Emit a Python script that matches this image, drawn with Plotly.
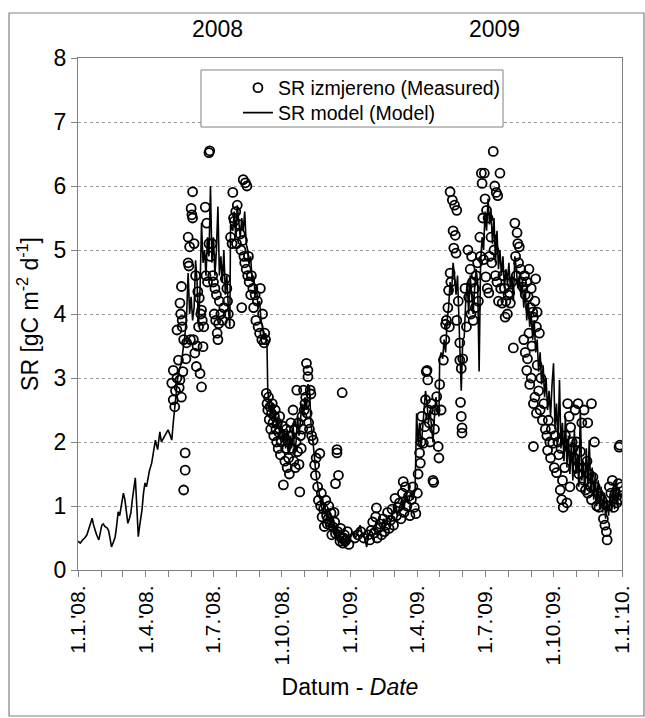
import plotly.graph_objects as go
import pandas as pd

# ---------------- data (day offsets from 1.1.2008, value) ----------------
model_2008 = [
(0,0.45),(3,0.42),(6,0.47),(9,0.5),(12,0.55),(16,0.68),(19,0.81),(21,0.7),(23,0.6),(25,0.55),
(28,0.47),(30,0.6),(32,0.7),(34,0.72),(36,0.68),(39,0.66),(41,0.62),(43,0.5),(45,0.36),(48,0.45),
(50,0.52),(52,0.7),(54,0.91),(56,0.85),(58,1.0),(61,1.2),(63,1.1),(65,0.9),(67,0.73),(69,0.8),
(71,0.89),(73,1.1),(75,1.3),(77,1.44),(79,1.0),(81,0.52),(83,0.7),(86,0.94),(88,1.2),(90,1.36),
(92,1.3),(94,1.44),(96,1.55),(99,1.67),(101,1.85),(104,2.03),(107,1.88),(110,2.16),(112,2.0),(115,2.06),
(118,2.12),(121,2.19),(124,2.1),(126,2.03),(128,2.3),(130,2.55),
(132,2.86),(134,3.0),(136,3.12),(138,3.2),(140,3.33),(142,3.5),(144,3.7),(146,4.0),(148,4.64),(150,4.0),
(152,4.27),(154,3.9),(156,4.1),(158,4.84),(160,4.5),(162,3.8),(164,4.4),(166,5.42),(168,4.8),(170,5.0),
(172,4.6),(174,5.2),(176,4.9),(178,6.0),(180,4.8),(182,5.2),(184,4.6),(186,5.0),(188,5.68),(190,4.6),
(192,4.9),(194,4.5),(196,5.0),(198,4.3),(200,4.6),(202,4.1),(204,3.8),(205,5.4),(208,5.3),(210,5.6),
(212,5.2),(214,5.7),(216,5.5),(218,5.2),(220,5.5),(222,5.3),(224,5.6),(226,5.1),(228,5.0),(230,4.8),
(232,4.9),(234,4.5),(236,4.6),(238,4.3),(240,4.4),(242,4.1),(244,4.2),(246,3.9),(248,3.8),(250,3.6),
(252,3.7),(254,3.5),(255,2.8),(257,2.6),(259,2.4),(261,2.6),(263,2.3),(265,2.5),(267,2.2),(269,2.4),
(271,2.1),(273,2.3),(275,2.0),(277,2.2),(279,1.9),(281,2.2),(283,1.8),(285,2.1),(287,1.9),(289,2.3),
(291,1.8),(293,2.0),(295,2.4),(297,2.1),(299,2.3),(301,2.6),(303,2.4),(305,2.7),(307,2.5),(309,2.9),
(311,2.86),(313,2.3),(315,2.1),(317,1.8),(319,1.6),(321,1.4),(323,1.25),(325,1.1),(327,1.0),(329,0.9),
(331,1.05),(333,0.85),(335,0.95),(337,0.75),(339,0.8),(341,0.65),(343,0.7),(345,0.6),(347,0.55),(349,0.62),
(351,0.5),(353,0.45),(355,0.5),(357,0.42),(359,0.48),(361,0.4),(363,0.45),(365,0.5),
]

model_2009 = [
(367,0.55),(370,0.6),(373,0.5),(376,0.58),(379,0.7),(382,0.55),(385,0.5),(388,0.36),(390,0.55),(393,0.6),
(396,0.65),(399,0.6),(402,0.75),(405,0.7),(408,0.65),(411,0.8),(414,0.7),(417,0.85),(420,0.75),(423,0.9),
(426,1.0),(429,0.85),(432,1.0),(435,1.1),(438,0.95),(441,1.2),(444,1.05),(447,1.2),(450,1.1),(453,1.25),
(455,2.45),(457,2.0),(459,2.3),(461,1.9),(463,2.2),(465,2.5),(467,2.8),(469,2.6),(471,2.3),(473,2.5),
(475,2.2),(477,2.0),(479,2.4),(481,2.7),(483,2.5),(485,2.4),(486,3.3),(488,3.4),(490,3.3),(492,3.6),
(494,3.4),(496,3.9),(498,4.1),(500,4.5),(502,4.3),(504,4.8),(506,4.6),(508,4.3),(510,4.6),(512,3.9),
(514,3.3),(515,2.8),(517,3.6),(519,3.64),(521,4.2),(523,4.5),(525,4.0),(527,4.6),(529,4.3),(531,4.0),
(533,4.4),(535,4.7),(537,4.5),(539,3.1),(541,4.8),(543,5.2),(545,5.0),(547,5.6),(549,5.3),(551,5.8),
(553,5.4),(555,5.6),(557,5.1),(559,5.5),(561,4.8),(563,5.3),(565,4.7),(567,5.0),(569,4.6),(571,4.9),
(573,4.4),(575,4.7),(577,4.5),(579,4.8),(581,4.4),(583,4.6),(585,4.2),(587,4.9),(589,4.7),(591,4.4),
(593,4.6),(595,4.3),(597,4.5),(599,4.1),(601,4.4),(603,3.9),(605,4.2),(607,3.8),(609,4.0),(611,3.6),
(613,3.9),(615,3.4),(617,3.6),(619,3.1),(621,3.4),(623,2.9),(625,3.2),(627,2.7),(629,3.0),(631,2.5),
(633,2.8),(635,2.4),(637,2.9),(639,3.23),(641,2.2),(643,2.6),(645,2.0),(647,2.97),(649,1.9),(651,2.3),
(653,1.7),(655,2.4),(657,1.6),(659,2.1),(661,1.5),(663,2.0),(665,1.4),(667,2.2),(669,1.5),(671,1.8),
(673,1.3),(675,2.5),(677,1.4),(679,1.7),(681,1.2),(683,1.9),(685,1.3),(687,2.03),(689,1.2),(691,1.6),
(693,1.1),(695,1.5),(697,1.0),(699,1.4),(701,0.95),(703,1.3),(705,0.9),(707,1.2),(709,0.8),(711,1.1),
(713,0.85),(715,1.2),(717,0.9),(719,1.3),(721,0.95),(723,1.4),(725,1.0),(727,1.3),(729,1.1),(731,1.2),
]

meas_2008 = [
(126,2.92),(128,3.12),(128,2.66),(130,2.55),(131,2.8),(133,3.75),(133,3.0),(135,3.28),(136,2.85),(137,2.97),
(137,4.17),(138,4.0),(139,2.7),(139,4.43),(140,3.9),(140,3.8),(141,3.1),(142,3.6),(142,1.25),(144,1.83),
(144,1.56),(145,3.3),(146,3.55),(148,5.2),(148,4.8),(149,4.75),(150,5.05),(151,3.6),(152,5.65),(153,5.55),
(154,5.91),(154,5.5),(155,3.6),(156,5.1),(157,3.39),(158,4.6),(159,3.18),(160,3.5),(161,4.35),(162,3.8),
(163,4.25),(164,3.07),(165,4.0),(166,2.86),(166,4.06),(167,3.9),(168,3.49),(169,3.8),(171,5.67),(172,4.6),
(173,5.42),(174,4.5),(176,6.52),(177,6.55),(176,5.1),(178,4.9),(180,5.1),(181,4.6),(182,4.5),(183,4.0),
(184,4.4),(185,3.9),(186,4.3),(187,3.7),(188,3.6),(189,3.85),(190,4.2),(192,4.0),(194,3.9),(196,4.1),
(198,4.55),(200,4.4),(201,4.2),(202,4.0),(204,3.85),(205,5.2),(207,5.1),(208,5.9),(209,5.5),(210,5.45),
(212,5.6),(213,5.1),(214,5.7),(216,5.4),(218,5.25),(219,5.0),(220,4.1),(221,5.15),(222,6.1),(223,4.9),
(224,4.8),(225,6.05),(226,4.7),(227,6.0),(228,4.6),(229,4.9),(230,4.5),(232,4.3),(233,4.6),(235,4.4),
(236,4.1),(238,4.3),(239,3.9),(241,4.2),(242,3.8),(244,3.7),(245,4.4),(247,3.6),(248,4.0),(250,3.55),
(251,3.7),(252,3.6),
(253,2.76),(254,2.6),(255,2.5),(256,2.7),(257,2.35),(258,2.55),(259,2.2),(260,2.45),(261,2.6),(262,2.3),
(263,2.1),(264,2.4),(265,2.5),(266,2.2),(267,2.0),(268,2.3),(269,1.9),(270,2.15),(271,2.4),(272,1.8),
(273,2.0),(275,2.25),(276,1.33),(277,2.1),(278,1.7),(279,1.9),(280,2.2),(281,1.6),(282,2.0),(283,1.75),
(284,1.5),(285,2.1),(286,2.3),(288,1.9),(289,2.5),(290,1.7),(291,2.2),(292,1.6),(293,2.0),(294,2.81),
(295,1.85),(296,2.3),(297,1.65),(298,1.22),(299,2.1),(300,1.9),(301,2.4),(302,2.2),(303,2.81),(304,2.5),
(305,2.6),(306,2.7),(307,3.23),(308,2.45),(309,3.12),(309,3.02),(310,2.3),(311,2.2),(312,2.81),(313,2.75),
(314,2.1),(316,2.03),(318,1.64),(319,1.48),(320,1.75),(322,1.3),(323,1.09),(325,1.82),(326,1.0),(327,1.2),
(328,0.83),(330,0.95),(331,0.68),(333,1.09),(334,0.85),(335,0.72),(336,0.8),(337,1.0),(338,0.75),(339,0.7),
(340,0.89),(341,0.55),(343,0.67),(344,0.9),(345,0.75),(346,0.57),(346,1.35),(348,1.88),(348,1.83),(349,0.6),
(350,1.48),(351,0.55),(352,0.45),(353,0.65),(354,0.5),(355,2.77),(356,0.42),(357,0.5),(358,0.55),(359,0.45),
(360,0.47),(362,0.6),(364,0.4),
]

meas_2009 = [
(372,0.5),(376,0.55),(380,0.6),(384,0.5),(390,0.55),(392,0.47),(394,0.62),(396,0.75),(398,0.58),(400,0.83),
(401,0.97),(402,0.5),(404,0.66),(406,0.72),(408,0.55),(410,0.8),(412,0.6),(414,0.7),(416,0.9),(418,0.65),
(420,0.78),(422,0.95),(424,0.7),(426,1.12),(428,0.85),(430,0.98),(432,1.05),(434,0.8),(436,1.2),(437,1.38),
(438,0.9),(440,1.3),(442,1.0),(444,1.15),(446,0.85),(448,1.1),(450,1.3),(452,0.98),(454,0.88),(456,1.2),
(457,1.5),
(459,1.83),(460,1.67),(461,2.0),(462,2.4),(464,1.98),(466,2.24),(467,2.66),(468,3.1),(469,3.12),(470,2.97),
(471,2.5),(472,2.3),(473,2.0),(475,2.6),(477,1.4),(478,1.37),(479,2.2),(480,2.5),(482,2.71),(484,1.93),
(485,1.75),(486,2.9),(488,2.5),(491,3.28),(493,3.6),(494,3.84),(495,3.9),(497,4.1),(498,4.37),(499,3.8),
(500,4.64),(500,5.91),(501,4.5),(503,5.78),(504,5.3),(505,5.03),(506,5.7),(507,5.23),(508,4.95),(509,5.62),
(509,3.9),(511,4.2),(513,3.28),(513,3.55),(514,2.62),(515,2.4),(515,3.15),(516,2.14),(516,2.22),(517,3.3),
(520,4.4),(522,3.8),(524,5.0),(525,4.26),(527,4.7),(528,4.0),(529,4.9),(530,4.5),(531,3.9),(533,4.4),
(534,4.1),(535,4.6),(537,4.8),(538,4.2),(540,5.2),(541,4.9),(542,6.2),(543,6.04),(544,5.5),(545,4.85),
(546,6.2),(547,5.8),(548,4.58),(549,5.62),(550,4.4),(551,5.5),(552,4.33),(553,4.9),(555,5.2),(556,4.8),
(558,6.54),(559,5.0),(560,6.0),(561,4.6),(562,5.9),(563,4.5),(564,5.85),(565,4.2),(567,6.2),(568,4.4),
(570,4.17),(571,4.6),(573,4.4),(574,3.95),(575,4.2),(577,4.0),(578,4.3),(580,4.33),(581,4.17),(583,4.5),
(585,3.47),(587,5.42),(588,4.9),(589,4.6),(590,5.27),(591,5.1),(592,4.8),(593,5.05),(595,4.7),(596,4.5),
(598,4.42),(599,3.6),(600,4.6),(601,4.3),(601,3.4),(603,4.5),(603,3.12),(604,3.3),(605,4.27),(606,4.7),
(606,3.7),(607,2.9),(608,4.1),(609,4.4),(609,3.0),(610,3.5),(611,4.03),(612,3.95),(612,2.6),(612,1.93),
(614,4.2),(614,2.7),(615,4.55),(616,3.8),(616,2.45),(617,4.03),(617,3.2),(619,2.8),(620,3.7),(621,2.5),
(622,3.0),(624,2.34),(626,2.6),(628,2.2),(630,2.1),(631,1.87),(632,2.34),(634,2.0),(635,1.75),(636,2.2),
(638,1.98),(640,1.6),(641,2.1),(643,1.52),(645,2.0),(646,1.8),(648,1.25),(649,1.9),(650,1.1),(651,1.4),
(652,0.98),(654,1.6),(655,2.1),(657,1.05),(658,2.6),(660,2.4),(661,1.3),(662,2.23),(664,2.0),(665,1.9),
(667,1.75),(668,2.5),(670,2.0),(671,1.6),(672,2.6),(673,1.5),(675,1.85),(676,1.3),(677,2.3),(679,1.6),
(680,1.4),(680,2.5),(682,1.25),(684,1.7),(685,1.2),(685,2.3),(687,1.5),(689,1.3),(690,1.1),(690,2.6),
(692,1.45),(694,2.0),(695,1.3),(697,1.0),(699,1.2),(700,0.98),(702,1.15),(704,1.1),(706,0.8),(708,0.7),
(710,0.6),(711,0.47),(712,1.0),(714,1.3),(716,1.2),(718,1.4),(720,0.98),(722,1.2),(724,1.05),(726,1.35),
(727,1.92),(728,1.95),(729,1.1),(730,1.3),
]

tick_dates = ["2008-01-01", "2008-04-01", "2008-07-01", "2008-10-01", "2009-01-01",
              "2009-04-01", "2009-07-01", "2009-10-01", "2010-01-01"]
tick_labels = ["1.1.'08.", "1.4.'08.", "1.7.'08.", "1.10.'08.", "1.1.'09.",
               "1.4.'09.", "1.7.'09.", "1.10.'09.", "1.1.'10."]
year_labels = ["2008", "2009"]
year_label_dates = ["2008-07-07", "2009-07-14"]

# ---------------- build ----------------
start = pd.Timestamp("2008-01-01")

def to_xy(points):
    d = [start + pd.Timedelta(days=p[0]) for p in points]
    v = [p[1] for p in points]
    return d, v

mx, my = to_xy(model_2008 + model_2009)
sx, sy = to_xy(meas_2008 + meas_2009)

FONT = "Liberation Sans, Arial, sans-serif"
GRAY = "#808080"

fig = go.Figure()
fig.add_trace(go.Scatter(
    x=sx, y=sy, mode="markers", name="SR izmjereno (Measured)", legend="legend",
    marker=dict(symbol="circle-open", size=9, color="black", line=dict(width=1.8, color="black")),
))
fig.add_trace(go.Scatter(
    x=mx, y=my, mode="lines", name="SR model (Model)", legend="legend2",
    line=dict(color="black", width=1.6),
))

for lab, d in zip(year_labels, year_label_dates):
    fig.add_annotation(x=d, y=1.057, xref="x", yref="paper", text=lab, showarrow=False,
                       font=dict(size=23, color="black", family=FONT), xanchor="center", yanchor="middle")

# legend frame
fig.add_shape(type="rect", xref="paper", yref="paper", x0=0.2261, x1=0.7813, y0=0.8652, y1=0.9766,
              line=dict(color=GRAY, width=1), fillcolor="white", layer="above")
# outer frame
fig.add_shape(type="rect", xref="paper", yref="paper", x0=-0.1268, x1=1.0404, y0=-0.2852, y1=1.0879,
              line=dict(color=GRAY, width=1.2))

leg_common = dict(x=0.294, xanchor="left", yanchor="middle", bgcolor="rgba(0,0,0,0)",
                  borderwidth=0, font=dict(size=19.5, family=FONT, color="black"))

fig.update_layout(
    width=645, height=718,
    margin=dict(l=78, r=23, t=58, b=148),
    paper_bgcolor="white", plot_bgcolor="white",
    font=dict(family=FONT, size=20, color="black"),
    showlegend=True,
    legend=dict(y=0.9414, **leg_common),
    legend2=dict(y=0.8926, **leg_common),
    xaxis=dict(
        type="date", range=["2008-01-01", "2010-01-01"],
        tickvals=tick_dates, ticktext=tick_labels, tickangle=-90,
        ticks="outside", ticklen=6, tickcolor=GRAY,
        showline=True, linecolor=GRAY, linewidth=1.2, mirror=True,
        showgrid=False, zeroline=False,
        tickfont=dict(size=21, family=FONT),
        minor=dict(dtick="M1", tick0="2008-01-01", ticks="outside", ticklen=6, tickcolor=GRAY, showgrid=False),
        title=dict(text="Datum - <i>Date</i>", font=dict(size=23, family=FONT), standoff=14),
    ),
    yaxis=dict(
        range=[0, 8], dtick=1, tick0=0,
        ticks="outside", ticklen=6, tickcolor=GRAY,
        showline=True, linecolor=GRAY, linewidth=1.2, mirror=True,
        showgrid=True, gridcolor="#9a9a9a", griddash="dot", gridwidth=1,
        zeroline=False,
        tickfont=dict(size=23, family=FONT),
        title=dict(text="SR [gC m<sup>-2</sup> d<sup>-1</sup>]", font=dict(size=23, family=FONT), standoff=8),
    ),
)

fig.write_html("out.html", config={"displayModeBar": False},
               post_script="document.body.style.margin='0';")
